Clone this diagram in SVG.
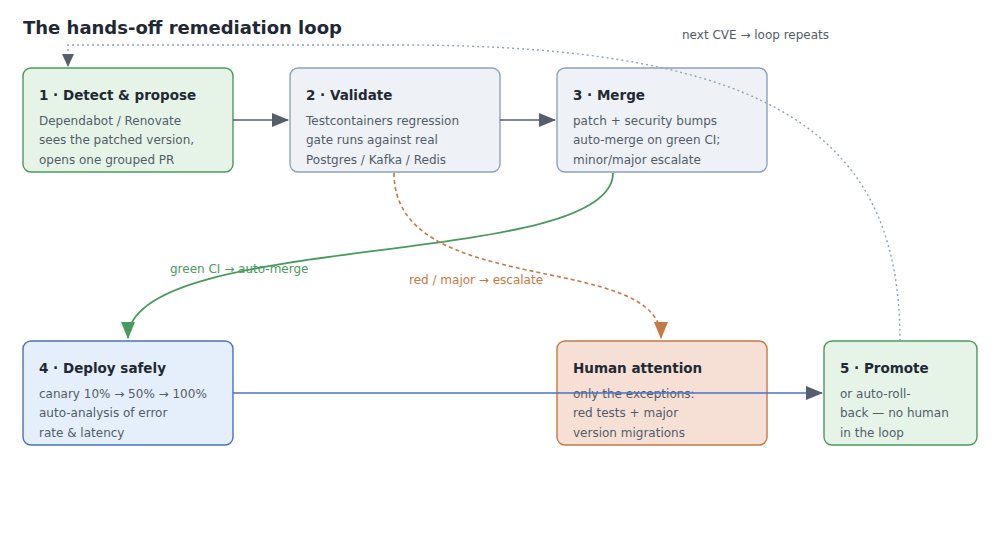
<svg xmlns="http://www.w3.org/2000/svg" width="1000" height="534" viewBox="0 0 1000 534">
<style>
text{font-family:"DejaVu Sans",sans-serif}
.t{font-size:13.5px;font-weight:bold;fill:#1f2933}
.b{font-size:12px;fill:#525c68}
.box{stroke-width:1.4}
.g{fill:#e6f4e8;stroke:#4a9a5e}
.s{fill:#eef2f7;stroke:#8ea2b8}
.bl{fill:#e4effb;stroke:#4a72c0}
.o{fill:#f6e0d5;stroke:#c47a45}
</style>
<defs>
<marker id="ag" markerWidth="18" markerHeight="14" refX="16" refY="7" orient="auto" markerUnits="userSpaceOnUse"><path d="M0,0L17,7L0,14z" fill="#555e6a"/></marker>
<marker id="agr" markerWidth="18" markerHeight="14" refX="16" refY="7" orient="auto" markerUnits="userSpaceOnUse"><path d="M0,0L17,7L0,14z" fill="#4a9a5e"/></marker>
<marker id="aor" markerWidth="18" markerHeight="14" refX="16" refY="7" orient="auto" markerUnits="userSpaceOnUse"><path d="M0,0L17,7L0,14z" fill="#c47a45"/></marker>
<marker id="abl" markerWidth="18" markerHeight="14" refX="16" refY="7" orient="auto" markerUnits="userSpaceOnUse"><path d="M0,0L17,7L0,14z" fill="#555e6a"/></marker>
<marker id="ad" markerWidth="14" markerHeight="12" refX="12" refY="6" orient="auto" markerUnits="userSpaceOnUse"><path d="M0,0L13,6L0,12z" fill="#555e6a"/></marker>
</defs>
<text x="23" y="34" style="font-size:18px;font-weight:bold;fill:#1f2933">The hands-off remediation loop</text>
<g id="n1"><rect class="box g" x="23" y="68" width="210" height="104" rx="8"/><text class="t" x="39" y="100">1 · Detect &amp; propose</text><text class="b" x="39" y="125">Dependabot / Renovate</text><text class="b" x="39" y="144">sees the patched version,</text><text class="b" x="39" y="164">opens one grouped PR</text></g>
<g id="n2"><rect class="box s" x="290" y="68" width="210" height="104" rx="8"/><text class="t" x="306" y="100">2 · Validate</text><text class="b" x="306" y="125">Testcontainers regression</text><text class="b" x="306" y="144">gate runs against real</text><text class="b" x="306" y="164">Postgres / Kafka / Redis</text></g>
<g id="n3"><rect class="box s" x="557" y="68" width="210" height="104" rx="8"/><text class="t" x="573" y="100">3 · Merge</text><text class="b" x="573" y="125">patch + security bumps</text><text class="b" x="573" y="144">auto-merge on green CI;</text><text class="b" x="573" y="164">minor/major escalate</text></g>
<g id="n4"><rect class="box bl" x="23" y="341" width="210" height="104" rx="8"/><text class="t" x="39" y="373">4 · Deploy safely</text><text class="b" x="39" y="398">canary 10% → 50% → 100%</text><text class="b" x="39" y="417">auto-analysis of error</text><text class="b" x="39" y="437">rate &amp; latency</text></g>
<g id="nh"><rect class="box o" x="557" y="341" width="210" height="104" rx="8"/><text class="t" x="573" y="373">Human attention</text><text class="b" x="573" y="398">only the exceptions:</text><text class="b" x="573" y="417">red tests + major</text><text class="b" x="573" y="437">version migrations</text></g>
<g id="n5"><rect class="box g" x="824" y="341" width="153" height="104" rx="8"/><text class="t" x="840" y="373">5 · Promote</text><text class="b" x="840" y="398">or auto-roll-</text><text class="b" x="840" y="417">back — no human</text><text class="b" x="840" y="437">in the loop</text></g>
<g id="connectors" fill="none">
<path d="M233,120H288" stroke="#555e6a" stroke-width="1.5" marker-end="url(#ag)"/>
<path d="M500,120H555" stroke="#555e6a" stroke-width="1.5" marker-end="url(#ag)"/>
<path d="M613,173C613,270 128,230 128,338" stroke="#4a9a5e" stroke-width="1.8" marker-end="url(#agr)"/>
<path d="M394,173C394,300 661,250 661,338" stroke="#c47a45" stroke-width="1.6" stroke-dasharray="4,3" marker-end="url(#aor)"/>
<path d="M233,393H822" stroke="#4a72c0" stroke-width="1.6" marker-end="url(#abl)"/>
<path d="M900,341C900,140 780,45 400,45H68V66" stroke="#8ea2b8" stroke-width="1.4" stroke-dasharray="2,3" marker-end="url(#ad)"/>
<text x="170" y="273" style="font-size:12px;fill:#4a9a5e">green CI → auto-merge</text>
<text x="409" y="284" style="font-size:12px;fill:#c47a45">red / major → escalate</text>
<text x="682" y="39" style="font-size:12px;fill:#525c68">next CVE → loop repeats</text>
</g>
</svg>
